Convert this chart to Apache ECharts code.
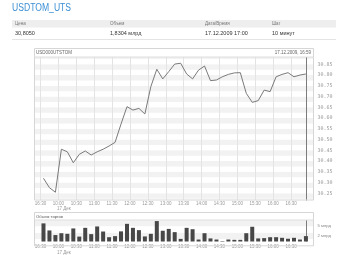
<!DOCTYPE html>
<html><head><meta charset="utf-8">
<script src="https://cdn.jsdelivr.net/npm/echarts@6/dist/echarts.min.js"></script>
<style>html,body{margin:0;padding:0;background:#fff}#c{width:340px;height:255px}</style>
</head><body><div id="c"></div>
<script>
// 10-minute interval start times (price points and volume bars), "DD.MM HH:MM"
const times = ['16.12 16:30','16.12 16:40','16.12 16:50',
  '17.12 10:00','17.12 10:10','17.12 10:20','17.12 10:30','17.12 10:40','17.12 10:50',
  '17.12 11:00','17.12 11:10','17.12 11:20','17.12 11:30','17.12 11:40','17.12 11:50',
  '17.12 12:00','17.12 12:10','17.12 12:20','17.12 12:30','17.12 12:40','17.12 12:50',
  '17.12 13:00','17.12 13:10','17.12 13:20','17.12 13:30','17.12 13:40','17.12 13:50',
  '17.12 14:00','17.12 14:10','17.12 14:20','17.12 14:30','17.12 14:40','17.12 14:50',
  '17.12 15:00','17.12 15:10','17.12 15:20','17.12 15:30','17.12 15:40','17.12 15:50',
  '17.12 16:00','17.12 16:10','17.12 16:20','17.12 16:30','17.12 16:40','17.12 16:50'];
// interval boundaries used for axis ticks / labels
const tickTimes = times.concat(['17.12 17:00']);
const dayLabel = '17 Дек';
const prices = [30.320,30.276,30.255,30.455,30.443,30.392,30.431,30.447,30.428,30.443,
  30.455,30.470,30.487,30.572,30.653,30.637,30.645,30.619,30.746,30.827,
  30.782,30.816,30.851,30.855,30.805,30.782,30.823,30.842,30.774,30.777,
  30.792,30.803,30.810,30.811,30.715,30.673,30.681,30.730,30.723,30.792,
  30.803,30.811,30.792,30.800,30.805];
const volumes = [5.9,3.6,2.1,2.7,2.5,4.25,1.6,4.45,2.4,4.9,
  3.25,1.4,1.75,3.3,5.75,4.45,3.7,1.65,2.5,6.65,
  3.5,4.1,3.05,0.85,4.45,4.0,0.65,2.7,1.0,0.65,
  0.15,0.65,0.55,0.55,2.7,4.8,1.0,1.1,1.4,1.4,
  1.2,0.9,1.2,0.65,1.75];
const volTickLabels = [2, 5];
const tableHeads = ['Цена','Объем','Дата/Время','Шаг'];
const tableVals = ['30,8050','1,8304 млрд','17.12.2009 17:00','10 минут'];
const chartCode = 'USD000UTSTOM';
const chartStamp = '17.12.2009, 16:59';
const volTitle = 'Объем торгов';

const FONT = 'Liberation Sans';
const L = 40.5, W = 268.4;
const showTick = (i) => i % 3 === 0 && i < times.length;
const timeFmt = (v, i) => {
  const t = String(v).split(' ')[1];
  return i === 3 ? '{t|' + t + '}\n{d|' + dayLabel + '}' : '{t|' + t + '}';
};
const richT = {t:{fontSize:4.5,color:'#999',fontFamily:FONT,lineHeight:5.6},
               d:{fontSize:4.5,color:'#999',fontFamily:FONT,lineHeight:5.6,padding:[0,0,0,11]}};
const xLabel = (margin) => ({interval:showTick, formatter:timeFmt, rich:richT, margin:margin,
  showMinLabel:true, hideOverlap:false});

const chart = echarts.init(document.getElementById('c'), null, {renderer:'canvas'});
const colX = [15, 110, 205, 272];
const graphics = [
  {type:'text', x:12, y:3.5, scaleX:0.86, style:{text:'USDTOM_UTS', fontSize:10, fontFamily:FONT, fill:'#3b8fd4'}},
  {type:'rect', shape:{x:12, y:20, width:324, height:7.5}, style:{fill:'#eeeeee'}},
  {type:'line', shape:{x1:12, y1:39.5, x2:336, y2:39.5}, style:{stroke:'#e4e4e4', lineWidth:1}},
  // main chart frame
  {type:'rect', z:10, shape:{x:34.5, y:48.5, width:279, height:8.5}, style:{fill:'#fff'}},
  {type:'rect', z:10, shape:{x:298, y:200.5, width:15, height:4.5}, style:{fill:'#fff'}},
  {type:'rect', z:11, shape:{x:34.5, y:48.5, width:279, height:151.5}, style:{fill:'none', stroke:'#d6d6d6', lineWidth:1}},
  {type:'line', z:11, shape:{x1:34.5, y1:57, x2:313.5, y2:57}, style:{stroke:'#dedede', lineWidth:1}},
  {type:'text', z:12, x:36, y:52.8, style:{text:chartCode, fontSize:4.5, fontFamily:FONT, fill:'#666', verticalAlign:'middle'}},
  {type:'text', z:12, x:311, y:52.8, style:{text:chartStamp, fontSize:4.5, fontFamily:FONT, fill:'#666', align:'right', verticalAlign:'middle'}},
  // volume frame
  {type:'rect', z:10, shape:{x:34.5, y:212.5, width:279, height:7.5}, style:{fill:'#fff'}},
  {type:'rect', z:11, shape:{x:34.5, y:212.5, width:279, height:33.3}, style:{fill:'none', stroke:'#d6d6d6', lineWidth:1}},
  {type:'line', z:11, shape:{x1:34.5, y1:220, x2:313.5, y2:220}, style:{stroke:'#dedede', lineWidth:1}},
  {type:'text', z:12, x:36, y:216.4, style:{text:volTitle, fontSize:4.2, fontFamily:FONT, fill:'#555', verticalAlign:'middle'}}
];
tableHeads.forEach((t, i) => graphics.push({type:'text', x:colX[i], y:23.8, style:{text:t, fontSize:4.5, fontFamily:FONT, fill:'#777', verticalAlign:'middle'}}));
tableVals.forEach((t, i) => graphics.push({type:'text', x:colX[i], y:33, style:{text:t, fontSize:5.5, fontFamily:FONT, fill:'#333', verticalAlign:'middle'}}));

chart.setOption({
  animation:false,
  backgroundColor:'#fff',
  grid:[
    {left:L, width:W, top:53.55, height:150.5},   // 0 price
    {left:L, width:W, top:57, height:143},        // 1 time ticks + vertical grid
    {left:L, width:W, top:220, height:25.3},      // 2 volume
    {left:34.5, width:279, top:53.55, height:150.5}, // 3 price stripes
    {left:34.5, width:279, top:220, height:25.3}  // 4 volume stripes
  ],
  xAxis:[
    {gridIndex:0, type:'category', data:times, boundaryGap:true, show:false},
    {gridIndex:1, type:'category', data:tickTimes, boundaryGap:false, position:'bottom',
      axisLine:{show:false}, axisTick:{show:false}, axisLabel:xLabel(0.8),
      splitLine:{show:true, interval:showTick, lineStyle:{color:'#e4e4e4', width:1}}},
    {gridIndex:2, type:'category', data:times, boundaryGap:true, show:false},
    {gridIndex:2, type:'category', data:tickTimes, boundaryGap:false, position:'bottom',
      axisLine:{show:false}, axisTick:{show:false}, axisLabel:xLabel(2.6),
      splitLine:{show:false}},
    {gridIndex:3, type:'value', min:0, max:1, show:false},
    {gridIndex:4, type:'value', min:0, max:1, show:false}
  ],
  yAxis:[
    {gridIndex:0, type:'value', min:30.2, max:30.9, interval:0.025, position:'right',
      axisLine:{show:false}, axisTick:{show:false}, splitLine:{show:false},
      axisLabel:{margin:8.5, fontSize:5, fontFamily:'DejaVu Sans Mono', color:'#999',
        formatter:(v)=> (Math.round(v*1000) % 50 === 0 && v > 30.2 && v < 30.9) ? v.toFixed(2) : ''}},
    {gridIndex:1, type:'value', min:0, max:1, show:false},
    {gridIndex:2, type:'value', min:0, max:7, interval:1, position:'right',
      axisLine:{show:false}, axisTick:{show:false}, splitLine:{show:false},
      axisLabel:{margin:8.5, fontSize:4.2, fontFamily:FONT, color:'#888',
        formatter:(v)=> volTickLabels.indexOf(v) >= 0 ? v + ' млрд' : ''}},
    {gridIndex:3, type:'value', min:30.2, max:30.9, interval:0.025,
      axisLine:{show:false}, axisTick:{show:false}, axisLabel:{show:false}, splitLine:{show:false},
      splitArea:{show:true, areaStyle:{color:['#ffffff','#f2f2f2']}}},
    {gridIndex:4, type:'value', min:0, max:7, interval:1.75,
      axisLine:{show:false}, axisTick:{show:false}, axisLabel:{show:false}, splitLine:{show:false},
      splitArea:{show:true, areaStyle:{color:['#ffffff','#f2f2f2']}}}
  ],
  series:[
    {type:'line', xAxisIndex:0, yAxisIndex:0, data:prices, symbol:'none', z:5,
      lineStyle:{color:'#7a7a7a', width:1},
      markLine:{silent:true, symbol:['none','none'], label:{show:false},
        lineStyle:{color:'#7c7c7c', type:'solid', width:1}, data:[{xAxis:times.length-1}]}},
    {type:'bar', xAxisIndex:2, yAxisIndex:2, data:volumes, barWidth:4, z:5,
      itemStyle:{color:'#474747'},
      markLine:{silent:true, symbol:['none','none'], label:{show:false},
        lineStyle:{color:'#7c7c7c', type:'solid', width:1}, data:[{xAxis:times.length-1}]}}
  ],
  graphic:graphics
});
</script></body></html>
